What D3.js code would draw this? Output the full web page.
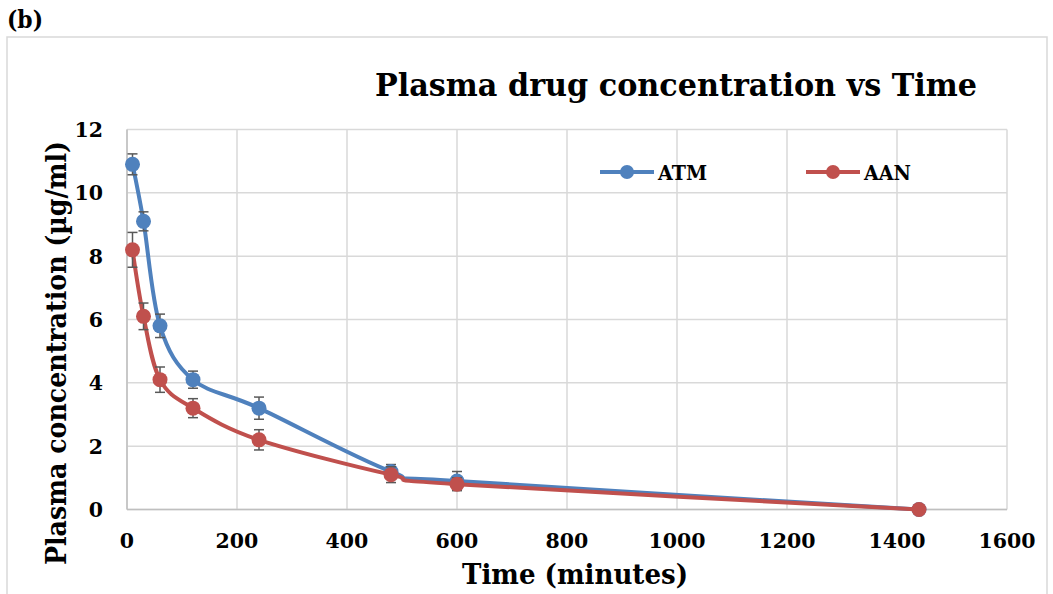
<!DOCTYPE html>
<html><head><meta charset="utf-8">
<script src="https://cdn.jsdelivr.net/npm/d3@7"></script>
<style>body{margin:0;background:#fff}svg{display:block}text{font-family:"DejaVu Serif",serif;font-weight:bold;fill:#000}</style>
</head><body><svg id="c" width="1053" height="594"></svg>
<script>
const times = [10, 30, 60, 120, 240, 480, 600, 1440];
const atm = [10.9, 9.1, 5.8, 4.1, 3.2, 1.2, 0.9, 0];
const atmErr = [0.33, 0.3, 0.37, 0.27, 0.35, 0.22, 0.3, 0];
const aan = [8.2, 6.1, 4.1, 3.2, 2.2, 1.1, 0.8, 0];
const aanErr = [0.55, 0.42, 0.4, 0.3, 0.32, 0.25, 0.2, 0];
const xTicks = [0, 200, 400, 600, 800, 1000, 1200, 1400, 1600];
const yTicks = [0, 2, 4, 6, 8, 10, 12];
const seriesNames = ["ATM", "AAN"];
const colors = ["#4F81BD", "#C0504D"];

const svg = d3.select("#c");
const x = d3.scaleLinear().domain([0, 1600]).range([127, 1007]);
const y = d3.scaleLinear().domain([0, 12]).range([509.5, 129.5]);

function fit(sel, w) {
  const n = sel.node();
  if (n.getComputedTextLength() > 0) sel.attr("textLength", w).attr("lengthAdjust", "spacingAndGlyphs");
  return sel;
}

// outer border
svg.append("rect").attr("x", 7).attr("y", 37).attr("width", 1040).attr("height", 600)
  .attr("fill", "none").attr("stroke", "#d9d9d9").attr("stroke-width", 1.5);
fit(svg.append("text").attr("x", 7).attr("y", 28).attr("font-size", 25).text("(b)"), 36);

// grid
svg.append("g").selectAll("line").data(yTicks).join("line")
  .attr("x1", x(0)).attr("x2", x(1600)).attr("y1", d => y(d)).attr("y2", d => y(d))
  .attr("stroke", "#d9d9d9").attr("stroke-width", 1.5);
svg.append("g").selectAll("line").data(xTicks).join("line")
  .attr("y1", y(0)).attr("y2", y(12)).attr("x1", d => x(d)).attr("x2", d => x(d))
  .attr("stroke", "#d9d9d9").attr("stroke-width", 1.5);
// axis lines
svg.append("line").attr("x1", x(0)).attr("x2", x(1600)).attr("y1", y(0)).attr("y2", y(0)).attr("stroke", "#bfbfbf").attr("stroke-width", 1.5);
svg.append("line").attr("x1", x(0)).attr("x2", x(0)).attr("y1", y(0)).attr("y2", y(12)).attr("stroke", "#bfbfbf").attr("stroke-width", 1.5);

// tick labels
svg.append("g").selectAll("text").data(yTicks).join("text")
  .attr("x", 103).attr("y", d => y(d) + 7.5).attr("text-anchor", "end")
  .attr("font-size", 20.5).text(d => d);
svg.append("g").selectAll("text").data(xTicks).join("text")
  .attr("x", d => x(d)).attr("y", 548).attr("text-anchor", "middle")
  .attr("font-size", 20.5).text(d => d);

// titles
fit(svg.append("text").attr("x", 375).attr("y", 96).attr("font-size", 32)
  .text("Plasma drug concentration vs Time"), 602);
fit(svg.append("text").attr("x", 462).attr("y", 584).attr("font-size", 27)
  .text("Time (minutes)"), 226);
fit(svg.append("text").attr("transform", "translate(66,565) rotate(-90)").attr("font-size", 27)
  .text("Plasma concentration (µg/ml)"), 424);

const series = [atm, aan];
const errs = [atmErr, aanErr];
const line = d3.line().x(d => x(d[0])).y(d => y(d[1])).curve(d3.curveCardinal.tension(0));

series.forEach((vals, i) => {
  const pts = times.map((t, j) => [t, vals[j], errs[i][j]]);
  const g = svg.append("g");
  g.append("path").datum(pts).attr("d", line).attr("fill", "none")
    .attr("stroke", colors[i]).attr("stroke-width", 4).attr("stroke-linejoin", "round");
  const eb = g.selectAll(".eb").data(pts.filter(p => p[2] > 0)).join("g");
  eb.append("line").attr("x1", p => x(p[0])).attr("x2", p => x(p[0]))
    .attr("y1", p => y(p[1] + p[2])).attr("y2", p => y(p[1] - p[2])).attr("stroke", "#595959").attr("stroke-width", 1.5);
  eb.append("line").attr("x1", p => x(p[0]) - 5).attr("x2", p => x(p[0]) + 5)
    .attr("y1", p => y(p[1] + p[2])).attr("y2", p => y(p[1] + p[2])).attr("stroke", "#595959").attr("stroke-width", 1.5);
  eb.append("line").attr("x1", p => x(p[0]) - 5).attr("x2", p => x(p[0]) + 5)
    .attr("y1", p => y(p[1] - p[2])).attr("y2", p => y(p[1] - p[2])).attr("stroke", "#595959").attr("stroke-width", 1.5);
  g.selectAll("circle").data(pts).join("circle")
    .attr("cx", p => x(p[0])).attr("cy", p => y(p[1])).attr("r", 7.5).attr("fill", colors[i]);
});

// legend
const legX = [600, 806];
const legW = [49, 47];
seriesNames.forEach((n, i) => {
  const lg = svg.append("g");
  lg.append("line").attr("x1", legX[i]).attr("x2", legX[i] + 54).attr("y1", 172).attr("y2", 172)
    .attr("stroke", colors[i]).attr("stroke-width", 4);
  lg.append("circle").attr("cx", legX[i] + 27).attr("cy", 172).attr("r", 7).attr("fill", colors[i]);
  fit(lg.append("text").attr("x", legX[i] + 58).attr("y", 180).attr("font-size", 20).text(n), legW[i]);
});
</script></body></html>
